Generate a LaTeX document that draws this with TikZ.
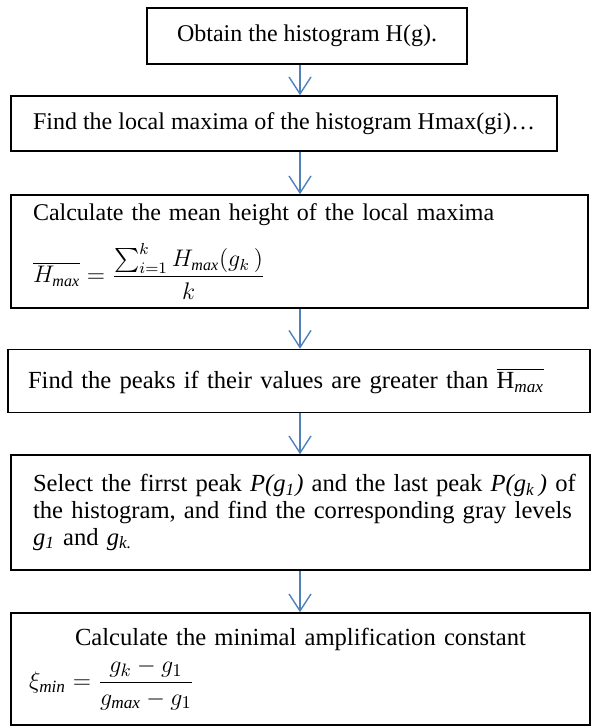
\documentclass[tikz,border=0pt]{standalone}
\usepackage{amsmath}
\usepackage{fontspec}
\setmainfont{Liberation Serif}
\usetikzlibrary{arrows.meta,positioning,calc}
\definecolor{flowBlue}{RGB}{79,129,189}

\begin{document}
\begin{tikzpicture}[x=0.5pt,y=-0.5pt,>={Straight Barb[length=8.5pt,width=11pt]},
  stepbox/.style={draw,line width=0.8pt,inner xsep=10pt,font=\fontsize{12}{13.3}\selectfont},
  bigtext/.style={font=\fontsize{12.3}{13.3}\selectfont},
  flow/.style={->,draw=flowBlue,line width=0.7pt}]
\useasboundingbox (0,0) rectangle (590,727);
\coordinate (axis) at (300,0);
\node[stepbox,minimum width=160pt,minimum height=28pt] (hist) at (307,36) {Obtain the histogram H(g).};
\node[stepbox,minimum width=273pt,minimum height=27.5pt] (localmax) at (284,123.5) {Find the local maxima of the histogram Hmax(gi)\ldots};
\node[stepbox,inner xsep=11pt,text width=266.5pt,minimum height=56.5pt,align=left] (meanheight) at (299.5,251.5)
  {Calculate the mean height of the local maxima\\[8pt]
   $\overline{H_{\mathit{max}}}=\dfrac{\sum_{i=1}^{k}H_{\mathit{max}}(g_k\,)}{k}$};
\node[stepbox,bigtext,text width=271pt,minimum height=31.5pt,align=left] (peaks) at (299,381)
  {Find the peaks if their values are greater than $\overline{\mathrm{H}_{\mathit{max}}}$};
\node[stepbox,bigtext,inner xsep=11pt,text width=267.5pt,minimum height=57.5pt,align=left] (select) at (300.5,512.5)
  {\mbox{Select the firrst peak \textit{P(g\textsubscript{1})} and the last peak \textit{P(g\textsubscript{k}\,)} of}\\
   \mbox{the histogram, and find the corresponding gray levels}\\
   \textit{g\textsubscript{1}} and \textit{g\textsubscript{k.}}};
\node[stepbox,bigtext,inner xsep=9pt,text width=271.5pt,minimum height=56pt,align=left] (amplify) at (300.5,669)
  {\makebox[\linewidth][c]{Calculate the minimal amplification constant}\\[3pt]
   $\xi_{\mathit{min}}=\dfrac{g_k-g_1}{g_{\mathit{max}}-g_1}$\\[2pt]};
\draw[flow] (hist.south -| axis) -- (localmax.north -| axis);
\draw[flow] (localmax.south -| axis) -- (meanheight.north -| axis);
\draw[flow] (meanheight.south -| axis) -- (peaks.north -| axis);
\draw[flow] (peaks.south -| axis) -- (select.north -| axis);
\draw[flow] (select.south -| axis) -- (amplify.north -| axis);
\end{tikzpicture}
\end{document}
